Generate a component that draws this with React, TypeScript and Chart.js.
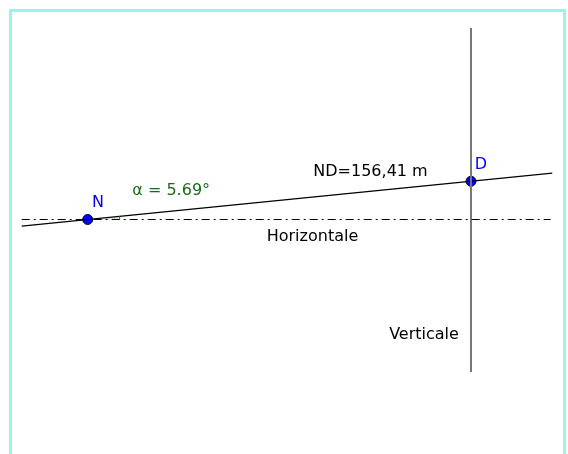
import React, { useEffect, useRef } from "react";
import { Chart, registerables } from "chart.js";

Chart.register(...registerables);

// Geometry in metres, N at the origin
const ND_LENGTH = 156.41;
const ALPHA_DEG = 5.69;
const pointNames = ["N", "D"];
const pointX = [0, 155.64];
const pointY = [0, 15.51];

// sloped line N-D extended
const slopeX = [-26.8, 188.65];
const slopeY = [-2.67, 18.8];

// horizontal dash-dot line through N
const horizX = [-26.8, 188.0];
const horizY = [0, 0];

// vertical line through D
const vertX = [155.64, 155.64];
const vertY = [77.76, -61.92];

// text labels
const labelTexts = ["N", "D", "α = 5.69°", "ND=156,41 m", "Horizontale", "Verticale"];
const labelX = [4.18, 159.7, 33.9, 114.83, 91.28, 136.56];
const labelY = [6.7, 22.13, 11.69, 19.41, -6.98, -46.9];
const labelColors = ["#0000ff", "#0000ff", "#1a6b1a", "#000000", "#000000", "#000000"];

const X_MIN = -35.61;
const X_MAX = 195.03;
const Y_MIN = -95.22;
const Y_MAX = 89.13;

const toPts = (xs: number[], ys: number[]) => xs.map((x, i) => ({ x, y: ys[i] }));

const overlayPlugin = {
  id: "geoOverlay",
  afterDatasetsDraw(chart: any) {
    const { ctx, scales } = chart;
    const xs = scales.x;
    const ys = scales.y;
    // angle arc at N
    const cx = xs.getPixelForValue(pointX[0]);
    const cy = ys.getPixelForValue(pointY[0]);
    const a = (ALPHA_DEG * Math.PI) / 180;
    ctx.save();
    ctx.beginPath();
    ctx.moveTo(cx, cy);
    ctx.arc(cx, cy, 32, 0, -a, true);
    ctx.closePath();
    ctx.fillStyle = "rgba(0,100,0,0.15)";
    ctx.fill();
    ctx.beginPath();
    ctx.arc(cx, cy, 32, 0, -a, true);
    ctx.strokeStyle = "#1a6b1a";
    ctx.lineWidth = 1;
    ctx.stroke();
    ctx.restore();
  },
  afterDraw(chart: any) {
    const { ctx, scales } = chart;
    ctx.save();
    ctx.font = '16px "DejaVu Sans"';
    ctx.textAlign = "center";
    ctx.textBaseline = "middle";
    labelTexts.forEach((t, i) => {
      ctx.fillStyle = labelColors[i];
      ctx.fillText(t, scales.x.getPixelForValue(labelX[i]), scales.y.getPixelForValue(labelY[i]));
    });
    ctx.restore();
  },
};

export default function App() {
  const ref = useRef<HTMLCanvasElement | null>(null);
  useEffect(() => {
    if (!ref.current) return;
    const chart = new Chart(ref.current, {
      type: "scatter",
      data: {
        datasets: [
          {
            label: "Horizontale",
            data: toPts(horizX, horizY),
            showLine: true,
            borderColor: "#000000",
            borderWidth: 1,
            borderDash: [8, 4, 2, 4],
            pointRadius: 0,
          },
          {
            label: "Verticale",
            data: toPts(vertX, vertY),
            showLine: true,
            borderColor: "#777777",
            borderWidth: 2,
            pointRadius: 0,
          },
          {
            label: "ND",
            data: toPts(slopeX, slopeY),
            showLine: true,
            borderColor: "#000000",
            borderWidth: 1.2,
            pointRadius: 0,
          },
          {
            label: "points",
            data: toPts(pointX, pointY),
            showLine: false,
            pointRadius: 5,
            backgroundColor: "#0000ff",
            borderColor: "#000040",
            borderWidth: 1,
          },
        ],
      },
      options: {
        animation: false,
        responsive: false,
        maintainAspectRatio: false,
        layout: { padding: 0, autoPadding: false },
        plugins: { legend: { display: false }, tooltip: { enabled: false } },
        scales: {
          x: { type: "linear", display: false, min: X_MIN, max: X_MAX },
          y: { type: "linear", display: false, min: Y_MIN, max: Y_MAX },
        },
        events: [],
      },
      plugins: [overlayPlugin],
    });
    return () => chart.destroy();
  }, []);

  return (
    <div
      style={{
        position: "fixed",
        left: 0,
        top: 0,
        width: 568,
        height: 454,
        overflow: "hidden",
        background: "#ffffff",
      }}
    >
      <canvas ref={ref} width={568} height={454} style={{ position: "absolute", left: 0, top: 0 }} />
      <div
        style={{
          position: "absolute",
          left: 9,
          top: 9,
          width: 551,
          height: 520,
          border: "3px solid #9bf3ea",
          pointerEvents: "none",
        }}
      />
    </div>
  );
}
